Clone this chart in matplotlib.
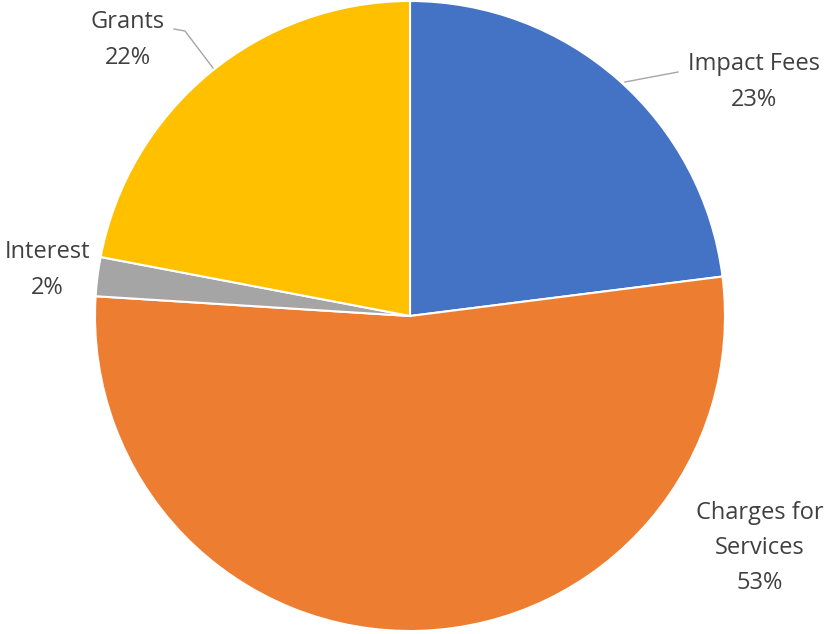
import matplotlib.pyplot as plt

# Revenue sources (percent of total)
sources = ["Impact Fees", "Charges for Services", "Interest", "Grants"]
shares = [23, 53, 2, 22]
label_text = ["Impact Fees\n23%", "Charges for\nServices\n53%", "Interest\n2%", "Grants\n22%"]
colors = ["#4472C4", "#ED7D31", "#A5A5A5", "#FFC000"]

W, H = 830, 634
fig = plt.figure(figsize=(W / 100, H / 100), dpi=100)
ax = fig.add_axes([0, 0, 1, 1])

# pie in pixel-like coordinates (y measured up from bottom)
cx, cy, r = 410, H - 316, 315
ax.pie(shares, colors=colors, startangle=90, counterclock=False,
       center=(cx, cy), radius=r, frame=True,
       wedgeprops=dict(edgecolor="white", linewidth=1.5))
ax.set_xlim(0, W)
ax.set_ylim(0, H)
ax.set_aspect("equal")
ax.axis("off")

label_pos = [(754, 82), (760, 548), (47, 270), (128, 40)]
txt = dict(fontsize=17, color="#404040", ha="center", va="center",
           family="Open Sans", linespacing=1.62)
for (x, y), s in zip(label_pos, label_text):
    ax.text(x, H - y, s, **txt)

# leader lines for the two outer labels
ax.plot([625, 678], [H - 82, H - 72], color="#A6A6A6", lw=1.0)
ax.plot([213, 185, 174], [H - 68, H - 31, H - 29], color="#A6A6A6", lw=1.0)

fig.savefig("out.png", dpi=100)
